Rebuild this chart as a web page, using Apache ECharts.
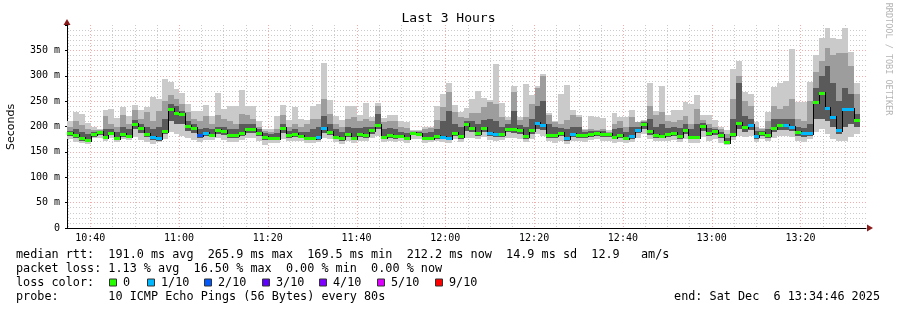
<!DOCTYPE html>
<html><head><meta charset="utf-8">
<script src="https://cdn.jsdelivr.net/npm/echarts@6/dist/echarts.min.js"></script>
<style>html,body{margin:0;padding:0;background:#fff}#c{width:897px;height:310px}</style>
</head><body><div id="c"></div>
<script>
// time in minutes after 10:00
const startMinute = 34 + 46 / 60;   // 10:34:46
const endMinute = startMinute + 180; // 13:34:46
const stepMinutes = 80 / 60;         // 80 s probe step

const median = [
188,183,177,174,185,189,180,188,178,186,
182,204,197,186,180,177,192,235,227,224,
201,197,184,188,184,193,191,183,183,187,
195,195,187,180,178,178,197,184,185,182,
178,178,180,197,190,180,177,185,178,185,
184,193,203,180,184,182,182,178,188,186,
178,178,181,180,178,188,182,204,197,188,
197,187,185,185,196,195,193,181,193,207,
203,184,184,188,178,186,184,184,186,188,
186,185,180,183,178,181,194,205,191,184,
182,185,188,181,193,180,180,201,188,191,
183,169,186,207,199,202,182,188,184,198,
202,203,200,189,187,188,249,266,237,218,
193,234,235,212];
const lossIdx = [
0,0,0,0,0,0,0,0,0,0,
0,0,0,0,1,1,0,0,0,0,
0,0,2,1,0,0,0,0,0,0,
0,0,0,0,0,0,0,0,0,0,
0,0,1,1,0,0,0,0,0,0,
0,0,0,0,0,0,0,0,0,0,
0,0,0,1,1,0,0,0,0,0,
0,1,1,0,0,0,0,0,0,1,
1,0,0,0,1,1,0,0,0,0,
0,0,0,0,0,1,1,0,0,0,
0,0,0,0,0,0,0,0,0,0,
0,0,0,0,0,1,1,0,0,0,
0,1,1,0,1,1,0,0,1,1,
1,1,1,0];
const pingMax = [
210,229,224,207,200,196,232,235,216,238,
220,243,232,238,258,255,294,288,273,266,
244,231,231,242,220,266,234,240,240,272,
240,240,210,196,196,220,242,212,238,215,
212,240,245,325,252,220,212,240,240,222,
246,219,246,216,223,223,210,208,194,194,
200,200,240,264,285,243,228,237,255,270,
257,252,324,246,219,279,219,283,262,280,
303,226,210,264,281,232,222,196,220,219,
216,193,226,219,219,232,209,212,286,230,
280,222,232,232,249,245,262,222,222,212,
199,193,313,329,268,264,209,198,229,278,
286,290,352,249,249,288,340,374,394,374,
372,394,346,285];
const pingHigh = [
200,210,202,196,193,193,220,205,200,222,
205,232,215,228,210,230,250,262,255,245,
228,215,210,220,205,222,215,210,205,225,
222,215,200,192,190,195,222,200,205,200,
205,215,215,255,225,205,200,215,218,210,
215,210,240,208,210,210,200,198,192,192,
196,198,212,239,268,228,218,216,226,226,
239,249,245,219,212,268,212,219,245,276,
300,223,208,205,212,222,219,194,196,194,
196,190,205,210,200,219,208,210,240,222,
228,210,208,212,220,205,235,212,205,200,
195,185,255,300,250,240,200,195,210,240,
235,240,255,215,210,250,308,330,355,340,
345,345,320,265];
const pingUpperMid = [
192,195,190,185,190,191,195,195,190,200,
195,212,205,200,195,200,215,245,240,230,
210,205,195,198,195,200,200,195,195,205,
205,205,195,188,185,188,205,192,195,190,
190,195,200,220,205,195,190,200,198,198,
200,200,225,195,198,195,190,188,190,190,
188,190,195,210,230,205,200,210,210,205,
212,215,210,200,205,230,202,200,215,240,
250,205,200,198,195,200,200,190,192,192,
192,188,195,198,190,200,200,208,215,200,
205,198,200,198,205,195,205,206,198,196,
190,178,215,285,220,215,192,192,195,215,
215,215,215,200,198,205,275,300,320,285,
250,275,265,225];
const pingLowerMid = [
182,177,171,169,180,184,175,183,173,180,
177,195,188,179,174,172,185,210,205,205,
192,188,178,181,179,186,184,177,177,181,
188,188,181,174,173,173,188,178,179,177,
173,173,174,188,183,175,172,179,173,179,
178,186,195,175,178,176,177,173,183,181,
173,174,176,175,173,182,176,192,189,182,
190,181,179,180,189,188,186,176,186,196,
194,178,178,181,172,179,178,178,180,182,
180,179,175,177,173,175,187,196,184,178,
177,179,182,176,186,175,175,192,182,184,
177,166,180,195,190,193,176,182,178,190,
193,194,192,182,180,181,215,215,210,200,
186,200,205,200];
const pingMin = [
175,170,167,166,177,178,172,178,170,176,
174,180,174,170,166,170,176,190,185,182,
178,174,170,174,174,177,174,170,170,174,
178,177,172,164,168,168,175,172,172,172,
168,168,170,178,175,170,166,172,168,172,
172,178,182,170,172,170,172,168,176,175,
168,170,172,170,168,176,170,178,178,175,
180,174,172,174,178,178,176,170,176,185,
182,172,168,172,165,172,172,170,174,175,
172,172,168,170,168,170,178,185,176,172,
172,172,174,170,176,168,168,180,172,175,
168,164,174,182,180,182,170,175,172,178,
182,182,180,172,170,175,190,195,185,175,
172,172,180,185];

const xMajorMinutes = [40, 60, 80, 100, 120, 140, 160, 180, 200];
const xMajorLabels = ['10:40','11:00','11:20','11:40','12:00','12:20','12:40','13:00','13:20'];
const xMinorMinutes = [35,45,50,55,65,70,75,85,90,95,105,110,115,125,130,135,145,150,155,165,170,175,185,190,195,205,210];

const lossColors = ['#26ff00','#00b8ff','#0059ff','#5e00ff','#7e00ff','#dd00ff','#ff0000'];
const lossLabels = ['0','1/10','2/10','3/10','4/10','5/10','9/10'];
const smokeColors = ['#cacaca', '#9d9d9d', '#5a5a5a'];

const statLines = [
  'median rtt:  191.0 ms avg  265.9 ms max  169.5 ms min  212.2 ms now  14.9 ms sd  12.9   am/s',
  'packet loss: 1.13 % avg  16.50 % max  0.00 % min  0.00 % now',
  'loss color:',
  'probe:       10 ICMP Echo Pings (56 Bytes) every 80s'
];
const endText = 'end: Sat Dec  6 13:34:46 2025';

const stepData = median.map((m, i) => [
  startMinute + i * stepMinutes, startMinute + (i + 1) * stepMinutes,
  m, pingMax[i], pingHigh[i], pingUpperMid[i], pingLowerMid[i], pingMin[i],
  lossIdx[i], i > 0 ? median[i - 1] : m
]);

const MONO = '"DejaVu Sans Mono", monospace';

function renderStep(params, api) {
  const t0 = api.value(0), t1 = api.value(1);
  const x0 = Math.round(api.coord([t0, 0])[0]);
  const x1 = Math.round(api.coord([t1, 0])[0]);
  const Y = v => Math.round(api.coord([t0, v])[1]);
  const band = (a, b, fill) => ({
    type: 'rect', shape: { x: x0, y: Y(b), width: x1 - x0, height: Y(a) - Y(b) },
    style: { fill: fill }
  });
  const ym = Y(api.value(2)), yp = Y(api.value(9));
  const children = [
    band(api.value(7), api.value(3), smokeColors[0]),
    band(api.value(6), api.value(4), smokeColors[1]),
    band(api.value(6), api.value(5), smokeColors[2]),
    { type: 'line', shape: { x1: x0 + 0.5, y1: Math.min(yp, ym) - 1, x2: x0 + 0.5, y2: Math.max(yp, ym) + 2 },
      style: { stroke: '#000', lineWidth: 1 } },
    { type: 'rect', shape: { x: x0, y: ym - 1, width: x1 - x0, height: 3 },
      style: { fill: lossColors[api.value(8)] } }
  ];
  return { type: 'group', children: children };
}

function renderVGrid(color) {
  return function (params, api) {
    const cs = params.coordSys;
    const x = Math.round(api.coord([api.value(0), 0])[0]) + 0.5;
    return { type: 'line', shape: { x1: x, y1: cs.y, x2: x, y2: cs.y + cs.height },
      style: { stroke: color, lineWidth: 1, lineDash: [1, 2] } };
  };
}

function renderXLabel(params, api) {
  const p = api.coord([api.value(0), 0]);
  return { type: 'text', x: p[0], y: p[1] + 10,
    style: { text: xMajorLabels[params.dataIndex], fill: '#000',
      font: '10px ' + MONO, align: 'center', verticalAlign: 'middle',
      textAlign: 'center', textVerticalAlign: 'middle' } };
}

const graphics = [];
const txt = (text, x, y, opts) => Object.assign({
  type: 'text', x: x, y: y, silent: true,
  style: Object.assign({ text: text, fill: '#000', font: '11.8px ' + MONO,
    align: 'left', verticalAlign: 'middle', textAlign: 'left', textVerticalAlign: 'middle' }, opts && opts.style || {})
}, opts && opts.el || {});

graphics.push(txt('Last 3 Hours', 448.5, 19, { style: { font: '13px ' + MONO, align: 'center', textAlign: 'center' } }));
graphics.push(txt('Seconds', 11, 127, { el: { rotation: Math.PI / 2 },
  style: { font: '11px "DejaVu Sans", sans-serif', align: 'center', textAlign: 'center' } }));
graphics.push(txt('RRDTOOL / TOBI OETIKER', 888, 59, { el: { rotation: -Math.PI / 2 },
  style: { font: '8.5px ' + MONO, fill: '#b4b4b4', align: 'center', textAlign: 'center' } }));
const lineY = [255, 268.5, 282.5, 296.5];
statLines.forEach((s, i) => graphics.push(txt(s, 16, lineY[i])));
graphics.push(txt(endText, 880, lineY[3], { style: { align: 'right', textAlign: 'right' } }));
const squareX = [109, 147, 204, 262, 319, 377, 435];
lossLabels.forEach((lab, i) => {
  graphics.push({ type: 'rect', silent: true,
    shape: { x: squareX[i] + 0.5, y: lineY[2] - 3.5, width: 7, height: 7 },
    style: { fill: lossColors[i], stroke: '#333', lineWidth: 1 } });
  graphics.push(txt(lab, squareX[i] + 14, lineY[2]));
});
// axis arrows
graphics.push({ type: 'polygon', silent: true, shape: { points: [[63.5, 25], [70.5, 25], [67, 19]] }, style: { fill: '#8b1a1a' } });
graphics.push({ type: 'polygon', silent: true, shape: { points: [[867, 224.5], [867, 231.5], [873, 228]] }, style: { fill: '#8b1a1a' } });

const chart = echarts.init(document.getElementById('c'), null, { renderer: 'canvas' });
chart.setOption({
  animation: false,
  backgroundColor: '#fff',
  grid: { left: 67, right: 31, top: 25, bottom: 82, containLabel: false },
  xAxis: {
    type: 'value', min: startMinute, max: endMinute,
    axisLine: { show: true, lineStyle: { color: '#000', width: 1 } },
    axisTick: { show: false }, axisLabel: { show: false }, splitLine: { show: false }
  },
  yAxis: {
    type: 'value', min: 0, max: 400, interval: 50,
    axisLine: { show: true, lineStyle: { color: '#000', width: 1 } },
    axisTick: { show: true, length: 2, lineStyle: { color: '#000' } },
    axisLabel: { margin: 7, color: '#000', fontFamily: 'DejaVu Sans Mono', fontSize: 10,
      formatter: v => v === 0 ? '0' : (v >= 400 ? '' : v + ' m') },
    splitLine: { show: true, lineStyle: { color: ['rgba(232,90,90,0.5)','rgba(232,90,90,0.5)','rgba(232,90,90,0.5)','rgba(232,90,90,0.5)','rgba(232,90,90,0.5)','rgba(232,90,90,0.5)','rgba(232,90,90,0.5)','rgba(232,90,90,0.5)','rgba(0,0,0,0)'], type: [1, 2], width: 1 } },
    minorTick: { show: false, splitNumber: 5 },
    minorSplitLine: { show: true, lineStyle: { color: 'rgba(140,140,140,0.45)', type: [1, 2], width: 1 } }
  },
  graphic: graphics,
  series: [
    { type: 'custom', name: 'minorGrid', z: 1, silent: true, renderItem: renderVGrid('rgba(140,140,140,0.45)'),
      data: xMinorMinutes.map(m => [m, 0]), encode: { x: 0, y: 1 } },
    { type: 'custom', name: 'majorGrid', z: 1, silent: true, renderItem: renderVGrid('rgba(232,90,90,0.5)'),
      data: xMajorMinutes.map(m => [m, 0]), encode: { x: 0, y: 1 } },
    { type: 'custom', name: 'smoke', z: 2, silent: true, renderItem: renderStep,
      data: stepData, encode: { x: [0, 1], y: [2, 3, 4, 5, 6, 7] } },
    { type: 'custom', name: 'xLabels', z: 3, silent: true, clip: false, renderItem: renderXLabel,
      data: xMajorMinutes.map(m => [m, 0]), encode: { x: 0, y: 1 } }
  ]
});
</script>
</body></html>
